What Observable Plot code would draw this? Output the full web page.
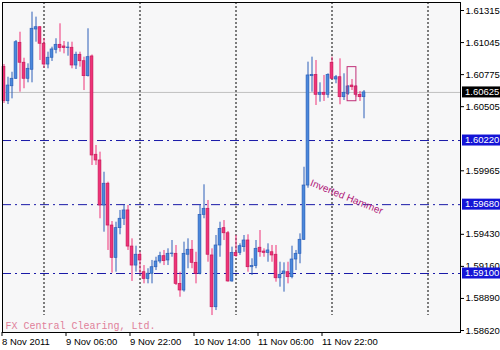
<!DOCTYPE html>
<html><head><meta charset="utf-8">
<script src="https://cdn.jsdelivr.net/npm/d3@7"></script>
<script src="https://cdn.jsdelivr.net/npm/@observablehq/plot@0.6"></script>
<style>
html,body{margin:0;padding:0;background:#fff;}
#chart svg{display:block;}
</style>
</head><body><div id="chart"></div>
<script>
// H1 candles, bar index 0 = 8 Nov 2011 14:00
const opens = [1.60838,1.60551,1.60677,1.60740,1.61043,1.60875,1.60740,1.60816,1.61155,1.61174,
1.61035,1.60860,1.60917,1.60984,1.61026,1.61012,1.60998,1.61001,1.60852,1.60942,
1.60888,1.60762,1.60928,1.60100,1.60052,1.59673,1.59856,1.59504,1.59232,1.59482,
1.59561,1.59631,1.59327,1.59167,1.59258,1.59111,1.59055,1.59098,1.59153,1.59201,
1.59246,1.59210,1.59264,1.59266,1.59013,1.58957,1.59258,1.59300,1.59190,1.59098,
1.59594,1.59645,1.59252,1.58816,1.59336,1.59482,1.59439,1.59033,1.59274,1.59274,
1.59322,1.59378,1.59153,1.59162,1.59317,1.59285,1.59274,1.59279,1.59258,1.59060,
1.59098,1.59111,1.59069,1.59218,1.59266,1.59384,1.59841,1.60762,1.60773,1.60605,
1.60622,1.60605,1.60875,1.60734,1.60753,1.60585,1.60613,1.60683,1.60675,1.60605,1.60585];
const highs = [1.60860,1.60753,1.60795,1.61062,1.61132,1.60913,1.60866,1.61301,1.61259,1.61180,
1.61079,1.60964,1.61006,1.61077,1.61203,1.61054,1.61048,1.61048,1.60964,1.60964,
1.60922,1.61161,1.60940,1.60178,1.60122,1.59953,1.59869,1.59538,1.59532,1.59631,
1.59673,1.59673,1.59392,1.59330,1.59279,1.59167,1.59140,1.59210,1.59237,1.59279,
1.59294,1.59308,1.59378,1.59336,1.59111,1.59364,1.59392,1.59378,1.59279,1.59679,
1.59847,1.59715,1.59308,1.59420,1.59532,1.59546,1.59454,1.59322,1.59420,1.59350,
1.59420,1.59426,1.59224,1.59378,1.59462,1.59308,1.59350,1.59336,1.59336,1.59195,
1.59190,1.59195,1.59330,1.59294,1.59434,1.59995,1.60880,1.60922,1.60894,1.60706,
1.60768,1.60782,1.60922,1.60768,1.60908,1.60782,1.60683,1.60734,1.60683,1.60633,1.60641];
const lows = [1.60532,1.60523,1.60571,1.60734,1.60627,1.60656,1.60706,1.60706,1.61048,1.60894,
1.60827,1.60824,1.60886,1.60950,1.60964,1.60950,1.60930,1.60824,1.60818,1.60838,
1.60641,1.60755,1.60010,1.60010,1.59561,1.59448,1.59294,1.59103,1.59111,1.59426,
1.59504,1.59294,1.59033,1.59111,1.59098,1.59013,1.59013,1.59013,1.59125,1.59182,
1.59167,1.59167,1.59237,1.58999,1.58900,1.58943,1.59140,1.59140,1.59013,1.59089,
1.59561,1.59195,1.58746,1.58788,1.59237,1.59378,1.59027,1.59027,1.59237,1.59252,
1.59279,1.59111,1.59083,1.59140,1.59237,1.59237,1.59195,1.59195,1.59027,1.58985,
1.58943,1.59013,1.59055,1.59125,1.59182,1.59378,1.59818,1.60627,1.60515,1.60543,
1.60549,1.60576,1.60734,1.60698,1.60521,1.60557,1.60599,1.60641,1.60585,1.60549,1.60403];
const closes = [1.60553,1.60683,1.60740,1.61048,1.60875,1.60740,1.60824,1.61161,1.61174,1.61035,
1.60860,1.60917,1.60987,1.61026,1.60998,1.60998,1.61003,1.60852,1.60942,1.60888,
1.60762,1.60922,1.60094,1.60052,1.59673,1.59856,1.59504,1.59232,1.59482,1.59561,
1.59631,1.59327,1.59167,1.59258,1.59210,1.59055,1.59098,1.59153,1.59201,1.59246,
1.59204,1.59266,1.59268,1.59013,1.58957,1.59266,1.59300,1.59190,1.59098,1.59594,
1.59645,1.59258,1.58816,1.59336,1.59476,1.59439,1.59033,1.59274,1.59246,1.59330,
1.59378,1.59153,1.59162,1.59308,1.59279,1.59274,1.59294,1.59252,1.59060,1.59089,
1.59117,1.59069,1.59218,1.59266,1.59384,1.59841,1.60768,1.60773,1.60605,1.60622,
1.60605,1.60773,1.60740,1.60753,1.60585,1.60622,1.60675,1.60669,1.60605,1.60585,1.60625];

const timeTickBars = [0, 16, 32, 48, 64, 80];
const timeTickLabels = ["8 Nov 2011", "9 Nov 06:00", "9 Nov 22:00", "10 Nov 14:00", "11 Nov 06:00", "11 Nov 22:00"];
const daySeparators = [10, 34, 58, 82, 106];
const priceTicks = [1.61315, 1.61045, 1.60775, 1.60505, 1.59965, 1.59430, 1.59160, 1.58890, 1.58620];
const currentPrice = 1.60625;
const levelLines = [1.60220, 1.59680, 1.59100];
const patternBox = [{bar1: 85.9, bar2: 88.1, price1: 1.60551, price2: 1.60838}];
const annotations = [{label: "Inverted Hammer", bar: 76.4, price: 1.59841}];
const watermark = ["FX Central Clearing, Ltd."];

const candles = opens.map((o, i) => ({i, o, h: highs[i], l: lows[i], c: closes[i], up: closes[i] >= o}));
const tickLabelMap = new Map(timeTickBars.map((b, k) => [b, timeTickLabels[k]]));

const BLUE = "#4a88dc", BLUE_D = "#2c5fb8", RED = "#ef3378", RED_D = "#c8195a";

const plot = Plot.plot({
  width: 500, height: 350,
  marginLeft: 2, marginTop: 2, marginRight: 40, marginBottom: 18,
  style: {fontFamily: "'Liberation Sans', Arial, sans-serif", fontSize: "9.5px", background: "#ffffff", color: "#000", overflow: "visible"},
  x: {domain: [-0.375, 114.125], axis: null},
  y: {domain: [1.586032, 1.613824], axis: null},
  marks: [
    Plot.frame({fill: "#f7f7f8", stroke: null}),
    Plot.ruleY([currentPrice], {stroke: "#c0c0c0"}),
    Plot.ruleX(daySeparators, {stroke: "#000", strokeDasharray: "2,2", insetBottom: 17}),
    Plot.ruleY(levelLines, {stroke: "#1a1aa8", strokeDasharray: "9,4,2,4"}),
    Plot.text(watermark, {text: d => d, frameAnchor: "bottom-left", dx: 3, dy: -4, lineAnchor: "bottom", textAnchor: "start",
      fill: "#e0809a", fontFamily: "'Liberation Mono', 'DejaVu Sans Mono', monospace", fontSize: 10}),
    Plot.ruleX(candles, {filter: d => d.up, x: "i", y1: "l", y2: "h", stroke: BLUE_D}),
    Plot.ruleX(candles, {filter: d => !d.up, x: "i", y1: "l", y2: "h", stroke: RED}),
    Plot.rect(candles, {filter: d => d.up, x1: d => d.i - 0.35, x2: d => d.i + 0.35, y1: "o", y2: "c", fill: BLUE, stroke: BLUE_D, strokeWidth: 0.7}),
    Plot.rect(candles, {filter: d => !d.up, x1: d => d.i - 0.35, x2: d => d.i + 0.35, y1: "o", y2: "c", fill: RED, stroke: RED_D, strokeWidth: 0.7}),
    Plot.rect(patternBox, {x1: "bar1", x2: "bar2", y1: "price1", y2: "price2", fill: "none", stroke: "#c03078"}),
    Plot.text(annotations, {x: "bar", y: "price", text: "label", rotate: 22, textAnchor: "start", lineAnchor: "bottom",
      fill: "#b0207a", fontSize: 10}),
    Plot.axisX({ticks: timeTickBars, tickFormat: d => tickLabelMap.get(d), tickSize: 4, tickPadding: 2, textAnchor: "start", dx: -2}),
    Plot.axisY({anchor: "right", ticks: priceTicks, tickFormat: d => d.toFixed(5), tickSize: 3, tickPadding: 2}),
    Plot.frame({stroke: "#000"})
  ]
});

document.getElementById("chart").append(plot);

// price tags on the right axis, positioned with the plot's y scale
const yScale = plot.scale("y");
const tags = [{v: currentPrice, bg: "#000000"}].concat(levelLines.map(v => ({v, bg: "#1414d6"})));
const svg = d3.select(plot);
const g = svg.append("g")
  .attr("font-family", "'Liberation Sans', Arial, sans-serif")
  .attr("font-size", "9.5px")
  .attr("text-anchor", "start");
for (const t of tags) {
  const yy = yScale.apply(t.v);
  g.append("rect").attr("x", 462).attr("y", yy - 5.5).attr("width", 38).attr("height", 11).attr("fill", t.bg);
  g.append("text").attr("x", 465).attr("y", yy).attr("dy", "0.34em").attr("text-anchor", "start").attr("fill", "#fff").text(t.v.toFixed(5));
}
</script>
</body></html>
